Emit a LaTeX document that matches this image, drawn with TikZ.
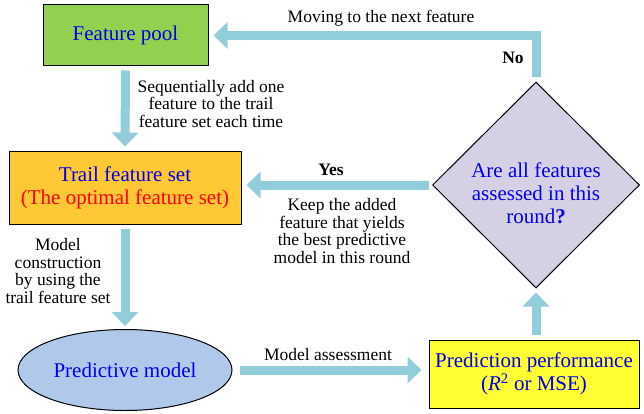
\documentclass[tikz,border=0pt]{standalone}
\usepackage{fontspec}
\setmainfont{Liberation Serif}
\usepackage{tikz}
\usetikzlibrary{positioning, arrows.meta, shapes.geometric}
\definecolor{poolgreen}{RGB}{146,208,80}
\definecolor{trailorange}{RGB}{255,200,52}
\definecolor{modelblue}{RGB}{176,200,234}
\definecolor{perfyellow}{RGB}{255,255,51}
\definecolor{checkviolet}{RGB}{214,208,229}
\definecolor{flowblue}{RGB}{146,205,220}
\definecolor{textblue}{RGB}{0,0,235}

\begin{document}
\begin{tikzpicture}[x=1pt, y=-1pt,
    box/.style={draw=black, line width=1pt, align=center, inner sep=0pt,
                font=\rmfamily\fontsize{21}{23}\selectfont, text=textblue},
    flow/.style={draw=flowblue, line width=9pt, line join=miter,
                 -{Triangle[width=26pt,length=14pt]}},
    note/.style={align=center, inner sep=0pt,
                 font=\rmfamily\fontsize{17.5}{17.5}\selectfont}]
    \useasboundingbox (0,0) rectangle (644,414);

    % boxes
    \node[box, fill=poolgreen, minimum width=165pt, minimum height=61pt]
      (pool) at (125.5,35.5) {Feature pool};
    \node[box, fill=trailorange, minimum width=232pt, minimum height=72pt]
      (trail) at (125,188) {Trail feature set\\
      \textcolor{red}{(The optimal feature set)}};
    \node[box, ellipse, fill=modelblue, minimum width=214pt, minimum height=81pt]
      (model) at (125,370) {Predictive model};
    \node[box, fill=perfyellow, minimum width=210pt, minimum height=68pt]
      (perf) at (534,374) {Prediction performance\\
      (\textit{R}\textsuperscript{2} or MSE)};
    \node[box, diamond, fill=checkviolet, minimum width=207pt, minimum height=206pt]
      (check) at (536,185) {};
    \node[box, draw=none] (asktext) at (536,193)
      {Are all features\\assessed in this\\round\textbf{?}};

    % connectors
    \draw[flow, shorten <=4pt, shorten >=5pt] (pool.south) -- (trail.north);
    \draw[flow, shorten <=4pt, shorten >=3pt] (trail.south) -- (model.north);
    \draw[flow, shorten <=7pt, shorten >=7pt] (model.east) -- (model.east -| perf.west);
    \draw[flow, shorten <=5pt, shorten >=4pt] (check.south |- perf.north) -- (check.south);
    \draw[flow, shorten <=4pt, shorten >=5pt] (check.north) |- (pool.east);
    \draw[flow, shorten <=3pt, shorten >=5pt] (check.west) -- (check.west -| trail.east);

    % labels
    \node[note] (movelbl) at (381,18) {Moving to the next feature};
    \node[note, font=\rmfamily\fontsize{17.5}{17.5}\selectfont\bfseries] (nolbl) at (513,58) {No};
    \node[note, font=\rmfamily\fontsize{17.5}{17.5}\selectfont\bfseries] (yeslbl) at (331,170) {Yes};
    \node[note] (keeplbl) at (342,231) {Keep the added\\feature that yields\\the best predictive\\model in this round};
    \node[note] (seqlbl) at (211,104) {Sequentially add one\\feature to the trail\\feature set each time};
    \node[note] (buildlbl) at (58,271) {Model\\construction\\by using the\\trail feature set};
    \node[note] (assesslbl) at (328,355) {Model assessment};
\end{tikzpicture}
\end{document}
